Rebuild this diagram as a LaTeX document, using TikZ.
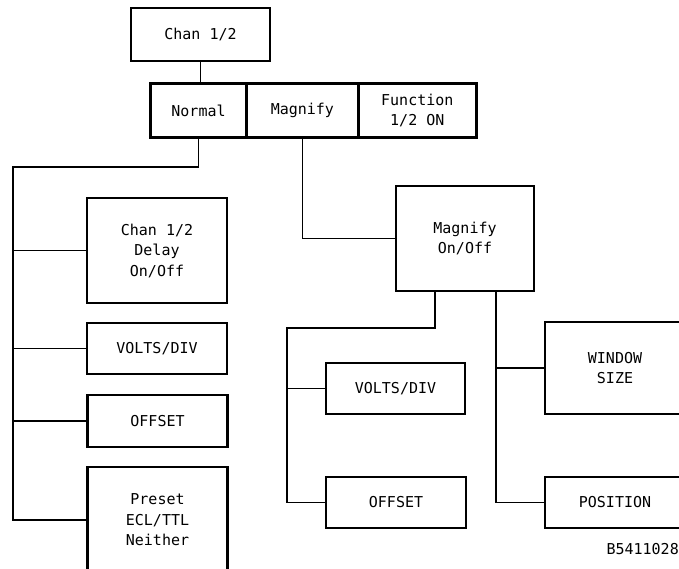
\documentclass[tikz,border=0pt]{standalone}
\usepackage{fontspec}
\setmonofont{DejaVu Sans Mono}
\usepackage{tikz}
\usetikzlibrary{positioning,calc}
\tikzset{
  menubox/.style={
    rectangle, draw=black, line width=2.6pt, fill=white,
    minimum width=#1, minimum height=52pt,
    font=\fontsize{15}{20.5}\selectfont\ttfamily, align=center,
    inner sep=2pt
  },
  menubox/.default=140pt,
  barcell/.style={
    rectangle, draw=black, line width=1.4pt,
    minimum width=#1, minimum height=53pt,
    font=\fontsize{15}{20}\selectfont\ttfamily, align=center,
    inner sep=1pt
  },
  linkline/.style={line width=1.6pt, color=black},
  figlabel/.style={font=\fontsize{15}{16}\selectfont\ttfamily, inner sep=0pt}
}
\begin{document}
\begin{tikzpicture}[x=1pt, y=-1pt]
  \useasboundingbox (0,0) rectangle (679,569);

  % Top: channel key and its softkey bar
  \node[menubox=139pt, minimum height=53pt] (chan) at (200.5,34.5) {Chan 1/2};

  \node[barcell=95pt] (normal) at (198.5,110.5) {Normal};
  \node[barcell=110pt, right=0pt of normal] (magnify) {Magnify};
  \node[barcell=117pt, right=0pt of magnify] (func) {Function\\1/2 ON};
  \draw[line width=2.6pt] (normal.north west) rectangle (func.south east);

  \draw[linkline] (chan.south) -- (chan.south |- normal.north);

  % Left column: Normal menu
  \node[menubox, minimum height=105pt] (delay) at (157,250.5) {Chan 1/2\\Delay\\On/Off};
  \node[menubox, minimum height=51pt] (volts) at (157,348.5) {VOLTS/DIV};
  \node[menubox] (offset) at (157.5,421) {OFFSET};
  \node[menubox, minimum height=106pt] (preset) at (157.5,520) {Preset\\ECL/TTL\\Neither};

  \coordinate (ltrunk) at (13,167);
  \draw[linkline] (normal.south) -- (normal.south |- ltrunk) -- (ltrunk)
    -- (ltrunk |- preset.west) -- (preset.west);
  \foreach \n in {delay,volts,offset}
    \draw[linkline] (ltrunk |- \n.west) -- (\n.west);

  % Magnify menu
  \node[menubox=138pt, minimum height=105pt] (magonoff) at (465,238.5) {Magnify\\On/Off};
  \draw[linkline] (magnify.south) |- (magonoff.west);

  \node[menubox=139pt, minimum height=51pt] (mvolts) at (395.5,388.5) {VOLTS/DIV};
  \node[menubox, minimum height=51pt] (moffset) at (396,502.5) {OFFSET};

  \coordinate (mtrunk) at (287,328);
  \draw[linkline] ([xshift=-30pt]magonoff.south) -- ([xshift=-30pt]magonoff.south |- mtrunk)
    -- (mtrunk) -- (mtrunk |- moffset.west) -- (moffset.west);
  \draw[linkline] (mtrunk |- mvolts.west) -- (mvolts.west);

  \node[menubox, minimum height=92pt] (window) at (615,368) {WINDOW\\SIZE};
  \node[menubox, minimum height=51pt] (position) at (615,502.5) {POSITION};

  \coordinate (rtrunk) at ([xshift=31pt]magonoff.south);
  \draw[linkline] (rtrunk) |- (position.west);
  \draw[linkline] (rtrunk |- window.west) -- (window.west);

  % figure number
  \node[figlabel, anchor=east] (fignum) at (679,549) {B5411028};
\end{tikzpicture}
\end{document}
